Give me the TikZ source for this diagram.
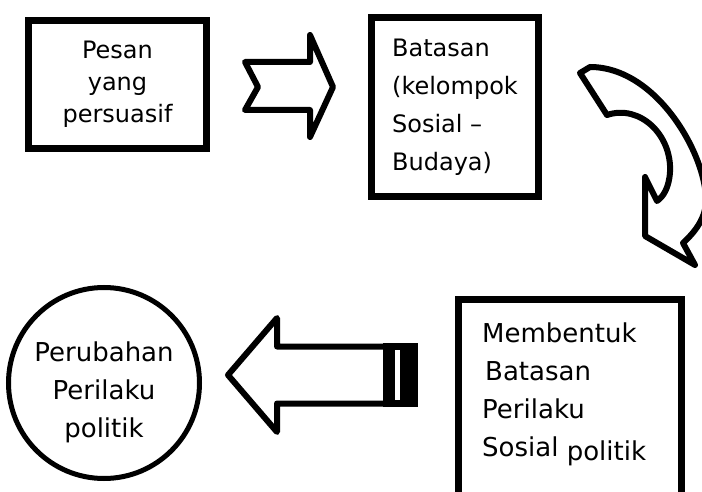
\documentclass[tikz,border=0pt]{standalone}
\usepackage{fontspec}
\setmainfont{DejaVu Sans}
\begin{document}
\begin{tikzpicture}[x=1pt,y=-1pt,
    box/.style={draw,shape=rectangle,line width=7pt,outer sep=0pt},
    blok/.style={draw,line width=6pt,line join=round,fill=white},
    atas/.style={font=\fontsize{24}{38}\selectfont},
    bawah/.style={font=\fontsize{26}{38}\selectfont}]
  \useasboundingbox (0,0) rectangle (702,492);
  \clip (0,0) rectangle (702,492);
  \node[box,font=\fontsize{24}{32}\selectfont,align=center,minimum width=178pt,minimum height=128pt] (pesan) at (117.5,84.5) {Pesan\\yang\\persuasif};
  \node[box,atas,align=left,minimum width=167pt,minimum height=179pt] (batasan) at (455,107) {Batasan\\(kelompok\\Sosial –\\Budaya)};
  \node[box,minimum width=223pt,minimum height=240pt,anchor=north west] (membentuk) at (458,299) {};
  \node[bawah,align=left,anchor=north west,inner sep=0pt] (isi) at (482,323) {Membentuk\\\hspace*{3pt}Batasan\\Perilaku\\Sosial \raisebox{-4pt}{politik}};
  \node[draw,circle,line width=5pt,minimum size=191pt,outer sep=0pt] (perubahan) at (104,383) {};
  \node[bawah,align=center] (hasil) at ([yshift=-9pt]perubahan.center) {Perubahan\\Perilaku\\politik};
  % panah kanan
  \draw[blok] (245,62) -- (310,62) -- (310,35) -- (333,87) -- (310,137) -- (310,110) -- (245,110) -- (258,87) -- cycle;
  % panah lengkung
  \draw[blok] (580,73) -- (607,115) .. controls (640,104) and (672,135) .. (670,172)
    .. controls (669,188) and (663,197) .. (657,201) -- (645,177) -- (645,236) -- (695,265) -- (683,243)
    .. controls (695,232) and (706,218) .. (706,200) .. controls (706,155) and (657,67) .. (590,67) -- cycle;
  % panah kiri
  \draw[blok] (383,346.5) -- (277,346.5) -- (277,318) -- (228,375) -- (277,432) -- (277,403.5) -- (383,403.5);
  \fill (383,343) rectangle (418,407);
  \fill[white] (395,350) rectangle (400,400);
\end{tikzpicture}
\end{document}
